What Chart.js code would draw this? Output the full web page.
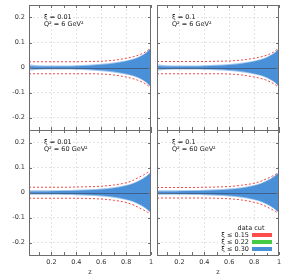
<!DOCTYPE html>
<html><head><meta charset="utf-8">
<script src="https://cdn.jsdelivr.net/npm/chart.js@4.4.1/dist/chart.umd.min.js"></script>
<style>
html,body{margin:0;padding:0;background:#fff;}
#wrap{position:relative;width:293px;height:276px;overflow:hidden;font-family:"DejaVu Sans";}
#wrap canvas{position:absolute;left:0;top:0;}
.ann{position:absolute;font-size:6.5px;color:#222;line-height:7px;white-space:nowrap;}
.sw{position:absolute;width:20px;height:4px;}
</style>
</head><body>
<div id="wrap">
<canvas id="cA" width="293" height="276"></canvas>
<canvas id="cB" width="293" height="276"></canvas>
<canvas id="cC" width="293" height="276"></canvas>
<canvas id="cD" width="293" height="276"></canvas>

<div class="ann" style="left:44px;top:13.5px">ξ = 0.01</div>
<div class="ann" style="left:44px;top:20.5px">Q² = 6 GeV²</div>
<div class="ann" style="left:172px;top:13.5px">ξ = 0.1</div>
<div class="ann" style="left:172px;top:20.5px">Q² = 6 GeV²</div>
<div class="ann" style="left:44px;top:139px">ξ = 0.01</div>
<div class="ann" style="left:44px;top:146px">Q² = 60 GeV²</div>
<div class="ann" style="left:172px;top:139px">ξ = 0.1</div>
<div class="ann" style="left:172px;top:146px">Q² = 60 GeV²</div>

<div style="position:absolute;left:218px;top:222px;width:58px;height:31px;background:#fff"></div>
<div class="ann" style="left:231px;width:40px;text-align:center;top:224.5px">data cut</div>
<div class="ann" style="left:200px;width:49px;text-align:right;top:231.5px">ξ ≤ 0.15</div>
<div class="ann" style="left:200px;width:49px;text-align:right;top:238.5px">ξ ≤ 0.22</div>
<div class="ann" style="left:200px;width:49px;text-align:right;top:245.5px">ξ ≤ 0.30</div>
<div class="sw" style="left:252px;top:233px;background:#ff4d4d"></div>
<div class="sw" style="left:252px;top:240px;background:#44cc44"></div>
<div class="sw" style="left:252px;top:247px;background:#4a90d9"></div>
</div>
<script>
// ---- data ----
const zGrid = [0.02, 0.05, 0.1, 0.2, 0.3, 0.4, 0.5, 0.6, 0.7, 0.8, 0.85, 0.9, 0.94, 0.97, 0.99, 1.0];
const yTicks = [-0.2, -0.1, 0, 0.1, 0.2];
const yTickLabels = ['-0.2', '-0.1', '0', '0.1', '0.2'];
const xTicks = [0.1, 0.2, 0.3, 0.4, 0.5, 0.6, 0.7, 0.8, 0.9, 1.0];
const xTickLabels = ['', '0.2', '', '0.4', '', '0.6', '', '0.8', '', '1'];
const xGridValues = [0.2, 0.4, 0.6, 0.8];

// panel A: xi = 0.01, Q2 = 6
const redHiA   = [0.023,0.023,0.023,0.023,0.023,0.023,0.024,0.025,0.029,0.037,0.042,0.050,0.058,0.067,0.076,0.080];
const redLoA   = [-0.025,-0.025,-0.025,-0.025,-0.025,-0.025,-0.025,-0.026,-0.030,-0.038,-0.044,-0.052,-0.061,-0.070,-0.078,-0.082];
const outerHiA = [0.013,0.011,0.009,0.008,0.008,0.009,0.011,0.015,0.020,0.028,0.034,0.043,0.053,0.064,0.074,0.079];
const outerLoA = [-0.013,-0.011,-0.009,-0.008,-0.008,-0.009,-0.011,-0.015,-0.020,-0.028,-0.034,-0.043,-0.053,-0.064,-0.074,-0.078];
const coreHiA  = [0.006,0.005,0.004,0.004,0.004,0.005,0.007,0.011,0.016,0.025,0.031,0.040,0.051,0.062,0.073,0.078];
const coreLoA  = [-0.006,-0.005,-0.004,-0.004,-0.004,-0.005,-0.007,-0.011,-0.016,-0.025,-0.031,-0.040,-0.051,-0.062,-0.072,-0.077];

// panel B: xi = 0.1, Q2 = 6
const redHiB   = [0.024,0.024,0.024,0.024,0.024,0.024,0.025,0.026,0.030,0.037,0.042,0.049,0.057,0.066,0.075,0.079];
const redLoB   = [-0.025,-0.025,-0.025,-0.025,-0.025,-0.025,-0.025,-0.026,-0.030,-0.038,-0.043,-0.051,-0.060,-0.069,-0.077,-0.080];
const outerHiB = [0.013,0.011,0.009,0.008,0.008,0.009,0.011,0.014,0.019,0.027,0.033,0.042,0.052,0.062,0.072,0.077];
const outerLoB = [-0.013,-0.011,-0.009,-0.008,-0.008,-0.009,-0.011,-0.014,-0.019,-0.027,-0.033,-0.042,-0.052,-0.062,-0.072,-0.077];
const coreHiB  = [0.006,0.005,0.004,0.004,0.004,0.005,0.007,0.010,0.015,0.024,0.030,0.039,0.050,0.060,0.071,0.076];
const coreLoB  = [-0.006,-0.005,-0.004,-0.004,-0.004,-0.005,-0.007,-0.010,-0.015,-0.024,-0.030,-0.039,-0.050,-0.060,-0.071,-0.076];

// panel C: xi = 0.01, Q2 = 60
const redHiC   = [0.021,0.021,0.021,0.021,0.021,0.022,0.023,0.025,0.030,0.039,0.047,0.060,0.070,0.079,0.084,0.085];
const redLoC   = [-0.023,-0.023,-0.023,-0.023,-0.023,-0.023,-0.024,-0.026,-0.031,-0.040,-0.048,-0.060,-0.070,-0.078,-0.083,-0.084];
const outerHiC = [0.009,0.009,0.009,0.009,0.010,0.011,0.013,0.016,0.021,0.030,0.037,0.048,0.059,0.069,0.077,0.080];
const outerLoC = [-0.009,-0.009,-0.009,-0.009,-0.010,-0.011,-0.013,-0.016,-0.021,-0.030,-0.037,-0.048,-0.059,-0.069,-0.077,-0.080];
const coreHiC  = [0.004,0.004,0.004,0.005,0.006,0.007,0.009,0.012,0.017,0.027,0.034,0.045,0.056,0.067,0.076,0.079];
const coreLoC  = [-0.004,-0.004,-0.004,-0.005,-0.006,-0.007,-0.009,-0.012,-0.017,-0.027,-0.034,-0.045,-0.056,-0.067,-0.076,-0.079];

// panel D: xi = 0.1, Q2 = 60
const redHiD   = [0.020,0.020,0.020,0.020,0.020,0.021,0.022,0.024,0.029,0.037,0.044,0.055,0.064,0.072,0.078,0.080];
const redLoD   = [-0.022,-0.022,-0.022,-0.022,-0.022,-0.022,-0.023,-0.025,-0.030,-0.039,-0.046,-0.057,-0.067,-0.075,-0.081,-0.083];
const outerHiD = [0.009,0.009,0.009,0.009,0.010,0.011,0.013,0.016,0.021,0.030,0.037,0.048,0.059,0.069,0.077,0.080];
const outerLoD = [-0.009,-0.009,-0.009,-0.009,-0.010,-0.011,-0.013,-0.016,-0.021,-0.030,-0.037,-0.048,-0.059,-0.069,-0.077,-0.080];
const coreHiD  = [0.004,0.004,0.004,0.005,0.006,0.007,0.009,0.012,0.017,0.027,0.034,0.045,0.056,0.067,0.076,0.079];
const coreLoD  = [-0.004,-0.004,-0.004,-0.005,-0.006,-0.007,-0.009,-0.012,-0.017,-0.027,-0.034,-0.045,-0.056,-0.067,-0.076,-0.079];

// ---- drawing ----
const RED = 'rgba(245,60,60,0.95)';
const BLUE = 'rgb(74,144,217)';
const BLUE_LIGHT = 'rgba(74,144,217,0.5)';
const FRAME = '#6e6e6e';
const GRID = '#e2e2e2';
const FONT = {family: 'DejaVu Sans', size: 6.5};

const pts = arr => arr.map((v, i) => ({x: zGrid[i], y: v}));
const near = (a, b) => Math.abs(a - b) < 1e-6;

const framePlugin = {
  id: 'frame',
  afterDatasetsDraw(chart) {
    const {ctx, chartArea: a, scales: {x, y}} = chart;
    ctx.save();
    const y0 = Math.round(y.getPixelForValue(0)) + 0.5;
    ctx.strokeStyle = 'rgba(55,65,85,0.6)';
    ctx.lineWidth = 1;
    ctx.beginPath(); ctx.moveTo(a.left, y0); ctx.lineTo(a.right, y0); ctx.stroke();
    ctx.strokeStyle = FRAME;
    ctx.beginPath();
    x.ticks.forEach(t => {
      const px = Math.round(x.getPixelForValue(t.value)) + 0.5;
      ctx.moveTo(px, a.bottom); ctx.lineTo(px, a.bottom - 3);
      ctx.moveTo(px, a.top); ctx.lineTo(px, a.top + 3);
    });
    y.ticks.forEach(t => {
      const py = Math.round(y.getPixelForValue(t.value)) + 0.5;
      ctx.moveTo(a.left, py); ctx.lineTo(a.left + 3, py);
      ctx.moveTo(a.right, py); ctx.lineTo(a.right - 3, py);
    });
    ctx.stroke();
    ctx.strokeRect(a.left + 0.5, a.top + 0.5, a.right - a.left - 1, a.bottom - a.top);
    ctx.restore();
  }
};

function makePanel(id, pad, showY, showX, s) {
  const band = (data, color, fill) => ({
    data: pts(data), borderWidth: 0, borderColor: 'transparent',
    backgroundColor: color, fill: fill, pointRadius: 0, cubicInterpolationMode: 'monotone'
  });
  const dashed = data => ({
    data: pts(data), borderColor: RED, borderWidth: 1, borderDash: [2, 2],
    fill: false, pointRadius: 0, cubicInterpolationMode: 'monotone'
  });
  new Chart(document.getElementById(id), {
    type: 'line',
    data: {
      datasets: [
        dashed(s.redHi), dashed(s.redLo),
        band(s.coreHi, BLUE, '+1'), band(s.coreLo, 'transparent', false),
        band(s.outerHi, BLUE_LIGHT, '+1'), band(s.outerLo, 'transparent', false)
      ]
    },
    plugins: [framePlugin],
    options: {
      responsive: false, animation: false, devicePixelRatio: 1,
      layout: {padding: pad},
      plugins: {legend: {display: false}, tooltip: {enabled: false}},
      scales: {
        x: {
          type: 'linear', min: 0.02, max: 1,
          border: {display: false, dash: [2, 2]},
          afterBuildTicks: sc => { sc.ticks = xTicks.map(v => ({value: v})); },
          grid: {
            drawTicks: false,
            color: c => xGridValues.some(g => near(g, c.tick.value)) ? GRID : 'transparent'
          },
          ticks: {
            display: showX, autoSkip: false, maxRotation: 0, padding: 3,
            color: '#333', font: FONT,
            callback: (v, i) => xTickLabels[xTicks.findIndex(t => near(t, v))] || ''
          },
          title: {display: showX, text: 'z', color: '#333', font: FONT, padding: 0},
          afterFit: sc => { sc.height = showX ? 21 : 0; sc.paddingLeft = 0; sc.paddingRight = 0; }
        },
        y: {
          type: 'linear', min: -0.25, max: 0.25,
          border: {display: false, dash: [2, 2]},
          afterBuildTicks: sc => { sc.ticks = yTicks.map(v => ({value: v})); },
          grid: {drawTicks: false, color: GRID},
          ticks: {
            display: showY, autoSkip: false, padding: 4, color: '#333', font: FONT,
            callback: v => yTickLabels[yTicks.findIndex(t => near(t, v))] || ''
          },
          afterFit: sc => { sc.width = showY ? 29 : 0; sc.paddingTop = 0; sc.paddingBottom = 0; }
        }
      }
    }
  });
}

makePanel('cA', {left: 0, right: 142, top: 5, bottom: 146}, true, false,
  {redHi: redHiA, redLo: redLoA, outerHi: outerHiA, outerLo: outerLoA, coreHi: coreHiA, coreLo: coreLoA});
makePanel('cB', {left: 157, right: 14, top: 5, bottom: 146}, false, false,
  {redHi: redHiB, redLo: redLoB, outerHi: outerHiB, outerLo: outerLoB, coreHi: coreHiB, coreLo: coreLoB});
makePanel('cC', {left: 0, right: 142, top: 130, bottom: 0}, true, true,
  {redHi: redHiC, redLo: redLoC, outerHi: outerHiC, outerLo: outerLoC, coreHi: coreHiC, coreLo: coreLoC});
makePanel('cD', {left: 157, right: 14, top: 130, bottom: 0}, false, true,
  {redHi: redHiD, redLo: redLoD, outerHi: outerHiD, outerLo: outerLoD, coreHi: coreHiD, coreLo: coreLoD});
</script>
</body></html>
